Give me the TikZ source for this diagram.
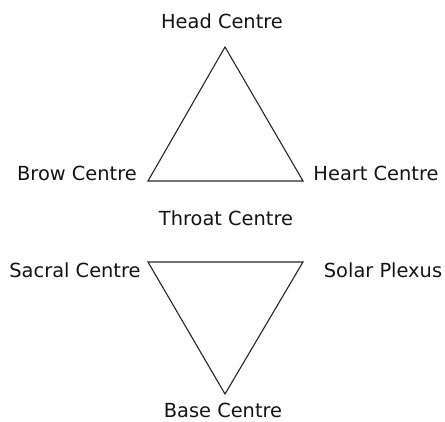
\documentclass[tikz,border=0pt]{standalone}
\usepackage{fontspec}
\setmainfont{DejaVu Sans}
\begin{document}
\begin{tikzpicture}[x=1pt,y=-1pt,
  lbl/.style={font=\fontsize{19.4}{23}\selectfont, text=black!92, inner sep=0pt},
  edge/.style={draw=black!85, line width=1.1pt, line join=miter}]
\useasboundingbox (0,0) rectangle (445,422);
\node[lbl] (head) at (222,21) {Head Centre};
\node[lbl] (brow) at (77,173) {Brow Centre};
\node[lbl] (heart) at (376,173) {Heart Centre};
\node[lbl] (throat) at (226,218) {Throat Centre};
\node[lbl] (sacral) at (75,270) {Sacral Centre};
\node[lbl] (solar) at (383,270) {Solar Plexus};
\node[lbl] (base) at (223,410) {Base Centre};
\coordinate (ta) at (225,47);
\coordinate (tl) at (148,181);
\coordinate (tr) at (303,181);
\coordinate (bl) at (148,262);
\coordinate (br) at (303,262);
\coordinate (bb) at (225,394);
\draw[edge] (ta) -- (tl) -- (tr) -- cycle;
\draw[edge] (bl) -- (br) -- (bb) -- cycle;
\end{tikzpicture}
\end{document}
